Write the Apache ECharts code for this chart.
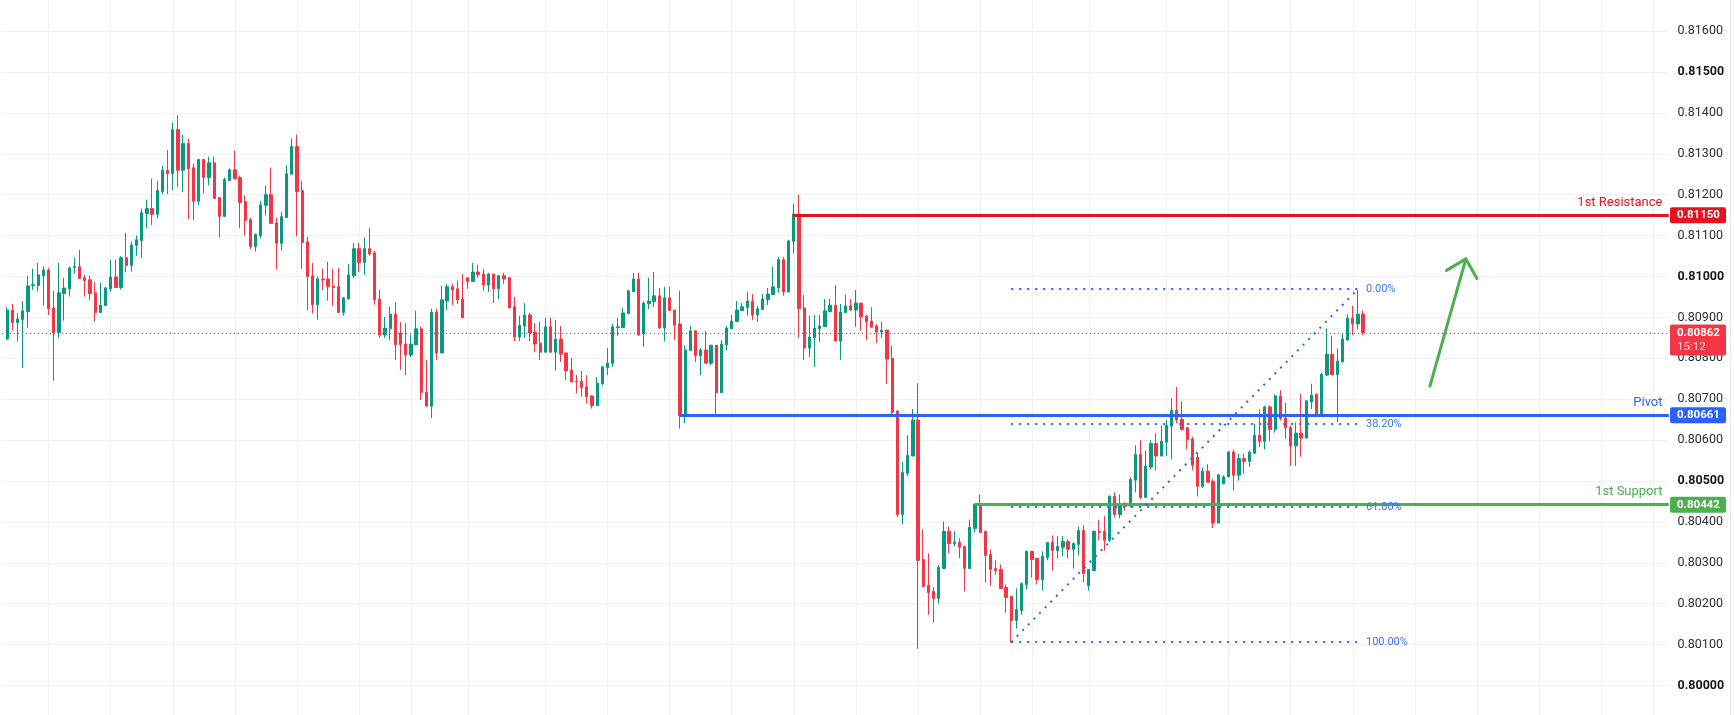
<!DOCTYPE html>
<html>
<head>
<meta charset="utf-8">
<title>USDCHF levels</title>
<script src="https://cdn.jsdelivr.net/npm/echarts@6/dist/echarts.min.js"></script>
<style>
  html, body { margin: 0; padding: 0; background: #ffffff; }
  #chart_main { width: 1734px; height: 715px; }
</style>
</head>
<body>
<div id="chart_main"></div>
<script>
// OHLC, oldest first (263 candles)
const opens = [
  0.80847,0.80918,0.80887,0.80895,0.80914,0.80978,0.80978,0.81002,0.81016,0.80923,0.80863,0.80958,
  0.80970,0.81022,0.81024,0.80997,0.80992,0.80960,0.80912,0.80929,0.80970,0.80999,0.80973,0.81046,
  0.81027,0.81076,0.81088,0.81154,0.81166,0.81152,0.81208,0.81259,0.81252,0.81359,0.81260,0.81325,
  0.81266,0.81184,0.81286,0.81242,0.81278,0.81193,0.81147,0.81235,0.81261,0.81242,0.81183,0.81139,
  0.81073,0.81100,0.81174,0.81200,0.81131,0.81081,0.81144,0.81250,0.81318,0.81210,0.81085,0.81002,
  0.80931,0.80994,0.80994,0.80977,0.80975,0.80912,0.80945,0.81002,0.81068,0.81034,0.81068,0.81058,
  0.80945,0.80857,0.80872,0.80908,0.80862,0.80835,0.80808,0.80833,0.80872,0.80717,0.80683,0.80913,
  0.80813,0.80940,0.80975,0.80970,0.80945,0.80997,0.80988,0.81011,0.81006,0.80979,0.81006,0.80970,
  0.81002,0.80997,0.80926,0.80852,0.80879,0.80906,0.80864,0.80837,0.80815,0.80877,0.80815,0.80847,
  0.80813,0.80771,0.80744,0.80744,0.80730,0.80708,0.80684,0.80738,0.80777,0.80787,0.80875,0.80875,
  0.80909,0.80963,0.80994,0.80860,0.80934,0.80939,0.80953,0.80874,0.80948,0.80918,0.80884,0.80660,
  0.80819,0.80867,0.80806,0.80820,0.80788,0.80832,0.80716,0.80833,0.80872,0.80890,0.80917,0.80924,
  0.80940,0.80906,0.80919,0.80944,0.80956,0.80973,0.81041,0.80962,0.81086,0.81153,0.80923,0.80825,
  0.80850,0.80872,0.80877,0.80914,0.80930,0.80842,0.80912,0.80928,0.80918,0.80935,0.80903,0.80891,
  0.80879,0.80864,0.80869,0.80800,0.80671,0.80418,0.80519,0.80561,0.80649,0.80308,0.80245,0.80230,
  0.80213,0.80286,0.80377,0.80347,0.80350,0.80340,0.80286,0.80384,0.80443,0.80377,0.80320,0.80286,
  0.80284,0.80240,0.80218,0.80159,0.80183,0.80247,0.80328,0.80311,0.80259,0.80313,0.80350,0.80330,
  0.80338,0.80352,0.80333,0.80345,0.80379,0.80244,0.80281,0.80377,0.80377,0.80355,0.80463,0.80418,
  0.80443,0.80438,0.80502,0.80565,0.80460,0.80534,0.80592,0.80561,0.80595,0.80634,0.80673,0.80651,
  0.80630,0.80603,0.80558,0.80487,0.80524,0.80499,0.80397,0.80493,0.80510,0.80571,0.80514,0.80555,
  0.80548,0.80568,0.80612,0.80597,0.80681,0.80626,0.80708,0.80654,0.80631,0.80586,0.80617,0.80605,
  0.80693,0.80712,0.80663,0.80759,0.80810,0.80760,0.80791,0.80845,0.80898,0.80884,0.80908
];
const closes = [
  0.80918,0.80887,0.80896,0.80916,0.80977,0.80980,0.81004,0.81016,0.80921,0.80863,0.80960,0.80972,
  0.81021,0.81024,0.80995,0.80990,0.80958,0.80912,0.80930,0.80972,0.80999,0.80973,0.81046,0.81027,
  0.81077,0.81090,0.81156,0.81166,0.81152,0.81210,0.81259,0.81252,0.81359,0.81260,0.81325,0.81264,
  0.81184,0.81286,0.81242,0.81278,0.81191,0.81147,0.81237,0.81261,0.81239,0.81181,0.81137,0.81073,
  0.81103,0.81175,0.81200,0.81130,0.81081,0.81146,0.81251,0.81318,0.81208,0.81083,0.81000,0.80931,
  0.80994,0.80992,0.80975,0.80973,0.80912,0.80948,0.81004,0.81068,0.81034,0.81068,0.81055,0.80943,
  0.80857,0.80874,0.80908,0.80833,0.80833,0.80808,0.80835,0.80872,0.80716,0.80683,0.80913,0.80813,
  0.80943,0.80975,0.80967,0.80943,0.80899,0.80988,0.81011,0.81004,0.80979,0.81006,0.80970,0.81002,
  0.80994,0.80923,0.80852,0.80881,0.80906,0.80862,0.80835,0.80815,0.80877,0.80815,0.80847,0.80810,
  0.80769,0.80742,0.80742,0.80728,0.80706,0.80684,0.80739,0.80779,0.80788,0.80877,0.80877,0.80911,
  0.80965,0.80994,0.80857,0.80935,0.80940,0.80953,0.80874,0.80948,0.80917,0.80881,0.80660,0.80820,
  0.80867,0.80806,0.80820,0.80788,0.80832,0.80716,0.80835,0.80874,0.80891,0.80918,0.80926,0.80940,
  0.80906,0.80921,0.80945,0.80957,0.80975,0.81041,0.80962,0.81087,0.81153,0.80921,0.80825,0.80852,
  0.80874,0.80879,0.80916,0.80930,0.80842,0.80913,0.80928,0.80918,0.80935,0.80901,0.80889,0.80876,
  0.80864,0.80869,0.80798,0.80668,0.80418,0.80521,0.80563,0.80649,0.80306,0.80242,0.80227,0.80213,
  0.80289,0.80377,0.80347,0.80350,0.80338,0.80286,0.80387,0.80443,0.80374,0.80318,0.80284,0.80281,
  0.80237,0.80215,0.80159,0.80186,0.80249,0.80328,0.80308,0.80259,0.80316,0.80350,0.80330,0.80340,
  0.80352,0.80333,0.80347,0.80379,0.80274,0.80284,0.80377,0.80374,0.80355,0.80463,0.80418,0.80443,
  0.80438,0.80504,0.80565,0.80460,0.80536,0.80592,0.80561,0.80597,0.80636,0.80673,0.80649,0.80626,
  0.80601,0.80538,0.80487,0.80524,0.80497,0.80397,0.80515,0.80510,0.80571,0.80514,0.80555,0.80548,
  0.80570,0.80612,0.80597,0.80681,0.80626,0.80708,0.80653,0.80630,0.80586,0.80617,0.80605,0.80696,
  0.80710,0.80663,0.80761,0.80810,0.80760,0.80793,0.80847,0.80898,0.80884,0.80908,0.80862
];
const lows = [
  0.80845,0.80868,0.80841,0.80777,0.80875,0.80967,0.80963,0.80929,0.80906,0.80745,0.80850,0.80892,
  0.80951,0.81007,0.80995,0.80951,0.80943,0.80890,0.80912,0.80929,0.80963,0.80973,0.80968,0.81010,
  0.81012,0.81051,0.81046,0.81118,0.81126,0.81142,0.81201,0.81201,0.81211,0.81218,0.81206,0.81140,
  0.81137,0.81174,0.81203,0.81223,0.81191,0.81095,0.81147,0.81233,0.81237,0.81118,0.81100,0.81066,
  0.81061,0.81093,0.81149,0.81130,0.81017,0.81064,0.81144,0.81250,0.81098,0.81019,0.80917,0.80909,
  0.80894,0.80967,0.80941,0.80928,0.80912,0.80904,0.80945,0.80997,0.81011,0.81004,0.81051,0.80931,
  0.80850,0.80850,0.80845,0.80796,0.80771,0.80759,0.80803,0.80833,0.80698,0.80683,0.80654,0.80796,
  0.80813,0.80918,0.80930,0.80933,0.80899,0.80970,0.80988,0.80997,0.80965,0.80962,0.80935,0.80945,
  0.80982,0.80923,0.80842,0.80842,0.80850,0.80842,0.80815,0.80796,0.80815,0.80815,0.80769,0.80791,
  0.80747,0.80742,0.80715,0.80706,0.80689,0.80677,0.80684,0.80733,0.80759,0.80779,0.80855,0.80875,
  0.80909,0.80963,0.80855,0.80828,0.80921,0.80926,0.80872,0.80842,0.80917,0.80845,0.80628,0.80641,
  0.80819,0.80791,0.80759,0.80788,0.80783,0.80660,0.80716,0.80820,0.80872,0.80890,0.80917,0.80904,
  0.80894,0.80889,0.80919,0.80930,0.80956,0.80960,0.80953,0.80962,0.81056,0.80850,0.80796,0.80803,
  0.80779,0.80840,0.80877,0.80914,0.80842,0.80796,0.80912,0.80916,0.80877,0.80867,0.80844,0.80876,
  0.80837,0.80849,0.80737,0.80658,0.80412,0.80394,0.80512,0.80561,0.80090,0.80240,0.80173,0.80154,
  0.80200,0.80286,0.80323,0.80340,0.80311,0.80230,0.80286,0.80374,0.80374,0.80252,0.80244,0.80271,
  0.80237,0.80178,0.80105,0.80139,0.80173,0.80235,0.80264,0.80247,0.80232,0.80306,0.80281,0.80311,
  0.80316,0.80311,0.80286,0.80318,0.80252,0.80232,0.80281,0.80355,0.80330,0.80350,0.80411,0.80409,
  0.80428,0.80438,0.80472,0.80455,0.80458,0.80529,0.80526,0.80561,0.80561,0.80553,0.80641,0.80624,
  0.80578,0.80526,0.80462,0.80483,0.80497,0.80385,0.80397,0.80493,0.80510,0.80477,0.80501,0.80518,
  0.80534,0.80568,0.80583,0.80577,0.80597,0.80618,0.80648,0.80603,0.80537,0.80537,0.80559,0.80604,
  0.80676,0.80659,0.80659,0.80756,0.80760,0.80644,0.80791,0.80842,0.80857,0.80871,0.80857
];
const highs = [
  0.80925,0.80933,0.80910,0.80940,0.81002,0.81019,0.81033,0.81024,0.81021,0.80965,0.81033,0.80997,
  0.81024,0.81046,0.81065,0.81004,0.81002,0.80987,0.80985,0.80975,0.81041,0.81041,0.81050,0.81107,
  0.81086,0.81100,0.81166,0.81188,0.81239,0.81234,0.81271,0.81310,0.81376,0.81394,0.81347,0.81337,
  0.81276,0.81286,0.81288,0.81293,0.81293,0.81193,0.81242,0.81264,0.81308,0.81247,0.81198,0.81144,
  0.81105,0.81185,0.81222,0.81266,0.81144,0.81157,0.81272,0.81338,0.81347,0.81234,0.81097,0.81033,
  0.81000,0.81019,0.81036,0.81019,0.81021,0.80948,0.81031,0.81082,0.81082,0.81095,0.81119,0.81063,
  0.80967,0.80901,0.80926,0.80937,0.80889,0.80886,0.80857,0.80916,0.80877,0.80796,0.80921,0.80921,
  0.80977,0.80982,0.80982,0.80990,0.81006,0.80999,0.81033,0.81029,0.81019,0.81009,0.81006,0.81002,
  0.81009,0.80999,0.80950,0.80904,0.80935,0.80911,0.80886,0.80889,0.80899,0.80899,0.80894,0.80879,
  0.80813,0.80801,0.80759,0.80769,0.80759,0.80710,0.80754,0.80781,0.80825,0.80884,0.80899,0.80923,
  0.80967,0.81009,0.81009,0.80940,0.80997,0.81011,0.80972,0.80975,0.80975,0.80918,0.80965,0.80832,
  0.80879,0.80869,0.80825,0.80867,0.80832,0.80832,0.80845,0.80879,0.80906,0.80940,0.80935,0.80962,
  0.80957,0.80928,0.80957,0.80972,0.81024,0.81048,0.81048,0.81090,0.81178,0.81200,0.80955,0.80904,
  0.80906,0.80906,0.80945,0.80945,0.80979,0.80933,0.80955,0.80945,0.80967,0.80935,0.80906,0.80925,
  0.80884,0.80889,0.80869,0.80830,0.80673,0.80546,0.80612,0.80676,0.80739,0.80382,0.80323,0.80240,
  0.80294,0.80401,0.80389,0.80377,0.80360,0.80340,0.80406,0.80445,0.80467,0.80379,0.80333,0.80306,
  0.80296,0.80247,0.80220,0.80237,0.80252,0.80330,0.80328,0.80311,0.80328,0.80350,0.80367,0.80365,
  0.80365,0.80357,0.80350,0.80389,0.80392,0.80284,0.80379,0.80404,0.80414,0.80465,0.80472,0.80467,
  0.80448,0.80509,0.80587,0.80600,0.80573,0.80600,0.80617,0.80636,0.80649,0.80703,0.80730,0.80695,
  0.80632,0.80608,0.80570,0.80533,0.80541,0.80505,0.80516,0.80514,0.80573,0.80577,0.80567,0.80567,
  0.80575,0.80640,0.80675,0.80684,0.80685,0.80712,0.80722,0.80691,0.80635,0.80643,0.80714,0.80697,
  0.80738,0.80714,0.80764,0.80873,0.80855,0.80824,0.80861,0.80907,0.80928,0.80967,0.80917
];

// levels drawn on the chart
const levelNames  = ['1st Resistance', 'Pivot', '1st Support'];
const levelPrices = [0.81150, 0.80661, 0.80442];
const levelStart  = [153, 131, 188];          // slot where each line begins
const levelColors = ['#e8121f', '#2962ff', '#4caf50'];

// fibonacci retracement (swing low -> swing high)
const fibLabels = ['0.00%', '38.20%', '61.80%', '100.00%'];
const fibPrices = [0.80969, 0.80639, 0.80436, 0.80106];
const fibFrom = 195, fibTo = 262;

const lastPrice = 0.80862;
const lastTimer = '15:12';

// hand drawn arrow, points in [slot, price]
const arrowShaft = [[275.9, 0.80732], [282.85, 0.81043]];
const arrowHead  = [[279.1, 0.81015], [282.85, 0.81043], [285.0, 0.80995]];

// time grid lines (slot index)
const timeGrid = [9, 21, 33, 45, 57, 69, 79, 90, 105, 117, 129, 141, 153, 165, 177,
                  189, 199, 210, 225, 237, 249, 261, 273, 285, 297, 309, 319];

const SLOTS = 323;   // one blank slot, the candles, then empty space on the right
const LAST = SLOTS - 1;
const FONT = 'Roboto';
const UP = '#089981', DOWN = '#f23645';

drawChart();

function drawChart() {
  var dom = document.getElementById('chart_main');
  var myChart = echarts.init(dom, null, { renderer: 'canvas' });

  var slots = [];
  var candles = [];
  for (var i = 0; i < SLOTS; i++) {
    slots.push(String(i));
    var k = i - 1;
    if (k >= 0 && k < opens.length) {
      candles.push([opens[k], closes[k], lows[k], highs[k]]);
    } else {
      candles.push('-');
    }
  }
  var gridSet = new Set(timeGrid);

  var tagBox = {
    color: '#ffffff', fontFamily: FONT, fontSize: 11.5, fontWeight: 'bold',
    width: 42, lineHeight: 13, padding: [2, 7, 1, 7], borderRadius: 2
  };

  var marks = [];
  // level lines: one copy carries the name, one the price tag
  for (var j = 0; j < levelNames.length; j++) {
    var c = levelColors[j], p = levelPrices[j], s = levelStart[j];
    var ls = { color: c, width: 3, type: 'solid' };
    marks.push([
      { coord: [s, p], lineStyle: ls,
        label: { show: true, position: 'insideEndTop', distance: 6, formatter: levelNames[j],
                 color: c, fontFamily: FONT, fontSize: 13 } },
      { coord: [LAST, p] }
    ]);
    marks.push([
      { coord: [s, p], lineStyle: ls,
        label: Object.assign({ show: true, position: 'end', distance: 1.5,
                 formatter: p.toFixed(5), backgroundColor: c }, tagBox) },
      { coord: [LAST, p] }
    ]);
  }

  // last price
  marks.push([
    { coord: [0, lastPrice], lineStyle: { color: DOWN, width: 1, type: [1, 3] },
      label: { show: true, position: 'end', distance: 1.5, offset: [0, 7],
               formatter: '{p|' + lastPrice.toFixed(5) + '}\n{t|' + lastTimer + '}',
               backgroundColor: '#f23645', padding: [2, 7, 2, 7], borderRadius: 2,
               rich: {
                 p: { color: '#ffffff', fontFamily: FONT, fontSize: 11.5, fontWeight: 'bold', width: 42, lineHeight: 13.5 },
                 t: { color: 'rgba(255,255,255,0.8)', fontFamily: FONT, fontSize: 11.5, width: 42, lineHeight: 13.5 }
               } } },
    { coord: [LAST, lastPrice] }
  ]);

  // fib levels and the diagonal
  var fibStyle = { color: '#2962ff', width: 2, type: [2, 6] };
  for (var f = 0; f < fibLabels.length; f++) {
    marks.push([
      { coord: [fibFrom, fibPrices[f]], lineStyle: fibStyle,
        label: { show: true, position: 'end', distance: 8, formatter: fibLabels[f],
                 color: '#3b74f7', fontFamily: FONT, fontSize: 11 } },
      { coord: [fibTo, fibPrices[f]] }
    ]);
  }
  marks.push([
    { coord: [fibFrom, fibPrices[3]], lineStyle: fibStyle, label: { show: false } },
    { coord: [fibTo, fibPrices[0]] }
  ]);

  var arrowLine = { color: '#4caf50', width: 3, cap: 'round', join: 'round' };

  var option = {
    animation: false,
    backgroundColor: '#ffffff',
    grid: { left: 2, right: 65.5, top: -9.8, bottom: -11.4, outerBoundsMode: 'none', containLabel: false },
    xAxis: [{
      type: 'category',
      data: slots,
      boundaryGap: false,
      axisLine: { show: false },
      axisTick: { show: false },
      axisLabel: { show: false },
      splitLine: {
        show: true,
        interval: function (idx) { return gridSet.has(idx); },
        lineStyle: { color: '#eef0f3', width: 1 }
      }
    }, {
      type: 'value', min: 0, max: LAST, show: false
    }],
    yAxis: {
      type: 'value',
      position: 'right',
      min: 0.799,
      max: 0.817,
      interval: 0.001,
      axisLine: { show: false },
      axisTick: { show: false },
      splitLine: { lineStyle: { color: '#eef0f3', width: 1 } },
      axisLabel: {
        showMinLabel: false,
        showMaxLabel: false,
        margin: 9,
        color: '#2a2e39',
        fontFamily: FONT,
        fontSize: 12.5,
        formatter: function (v) {
          var s = v.toFixed(5);
          return Math.round(v * 1000) % 5 === 0 ? '{b|' + s + '}' : s;
        },
        rich: { b: { color: '#131722', fontFamily: FONT, fontSize: 12.5, fontWeight: 'bold' } }
      }
    },
    graphic: [{
      type: 'line',
      shape: { x1: 1730.5, y1: 0, x2: 1730.5, y2: 715 },
      style: { stroke: '#e6e8ec', lineWidth: 1 },
      silent: true
    }],
    series: [{
      name: 'price',
      type: 'candlestick',
      data: candles,
      barWidth: 2.8,
      clip: false,
      itemStyle: {
        color: UP, color0: DOWN,
        borderColor: UP, borderColor0: DOWN,
        borderWidth: 1
      },
      markLine: {
        silent: true,
        animation: false,
        symbol: ['none', 'none'],
        data: marks
      }
    }, {
      type: 'line',
      xAxisIndex: 1,
      data: arrowShaft,
      showSymbol: false,
      silent: true,
      lineStyle: arrowLine,
      z: 5
    }, {
      type: 'line',
      xAxisIndex: 1,
      data: arrowHead,
      showSymbol: false,
      silent: true,
      lineStyle: arrowLine,
      z: 5
    }]
  };

  if (option && typeof option === 'object') {
    myChart.setOption(option, true);
  }
}
</script>
</body>
</html>
